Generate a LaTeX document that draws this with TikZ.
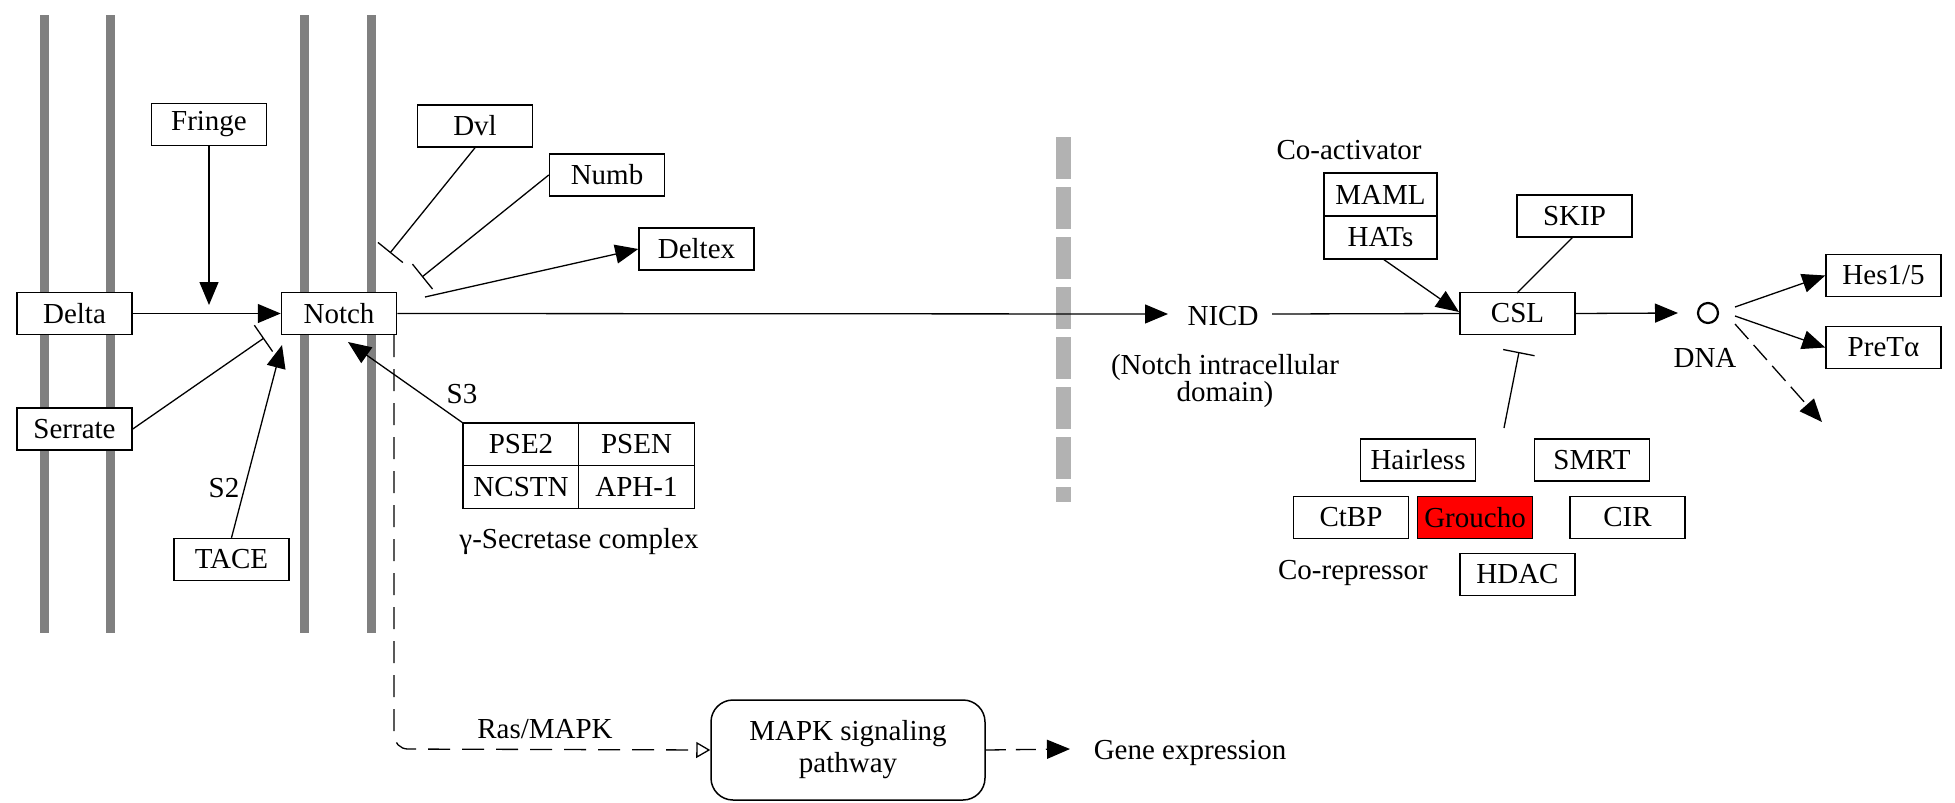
\documentclass[tikz,border=0pt]{standalone}
\usepackage{fontspec}
\setmainfont{Liberation Serif}
\usetikzlibrary{arrows.meta}
\definecolor{membr}{RGB}{128,128,128}
\definecolor{nucl}{RGB}{178,178,178}
\definecolor{kred}{RGB}{255,0,0}
\begin{document}
\begin{tikzpicture}[x=1pt,y=-1pt,
  every node/.style={font=\fontsize{29}{30}\selectfont},
  box/.style={draw, fill=white, line width=1.5pt, minimum width=115pt, minimum height=42pt, inner sep=0pt},
  cell/.style={draw, fill=white, line width=1.5pt, minimum width=116pt, minimum height=43pt, inner sep=0pt},
  lbl/.style={inner sep=0pt, align=center},
  conn/.style={line width=1.3pt},
  act/.style={conn, -{Triangle[length=23pt,width=19pt]}},
  inh/.style={conn, -{Bar[width=32pt,line width=1.3pt]}},
  indirect/.style={line width=1.3pt, dash pattern=on 22pt off 12pt},
  membrane/.style={draw=membr, line width=9pt},
]
\useasboundingbox (0,0) rectangle (1955,803);
% membranes
\foreach \xx in {44,110.5,304.5,371.5} \draw[membrane] (\xx,15) -- (\xx,633);
% nuclear membrane
\draw[draw=nucl, line width=15pt, dash pattern=on 42pt off 8pt] (1063.5,137) -- (1063.5,502);

% nodes
\node[box] (fringe) at (209,124.5) {Fringe};
\node[box] (delta) at (74.5,313.5) {Delta};
\node[box] (notch) at (339,313.5) {Notch};
\node[box] (serrate) at (74.5,429) {Serrate};
\node[box] (tace) at (231.5,559.5) {TACE};
\node[box] (dvl) at (475,126) {Dvl};
\node[box] (numb) at (607,175) {Numb};
\node[box] (deltex) at (696.5,249) {Deltex};
\node[cell] (pse2) at (521,444.5) {PSE2};
\node[cell] (psen) at (636.5,444.5) {PSEN};
\node[cell] (ncstn) at (521,487) {NCSTN};
\node[cell] (aph) at (636.5,487) {APH-1};
\node[box, minimum width=113pt, minimum height=43pt] (maml) at (1380.5,194.5) {MAML};
\node[box, minimum width=113pt, minimum height=43pt] (hats) at (1380.5,237.5) {HATs};
\node[box] (skip) at (1574.5,216) {SKIP};
\node[box] (csl) at (1517.5,313.5) {CSL};
\node[box] (hairless) at (1418,460) {Hairless};
\node[box] (smrt) at (1592,460) {SMRT};
\node[box] (ctbp) at (1351,517.5) {CtBP};
\node[box, fill=kred] (groucho) at (1475,517.5) {Groucho};
\node[box] (cir) at (1627.5,517.5) {CIR};
\node[box] (hdac) at (1517.5,574.5) {HDAC};
\node[box] (hes) at (1883.5,275.5) {Hes1/5};
\node[box] (pret) at (1883.5,347.5) {PreTα};
\node[draw, line width=1.5pt, rounded corners=22pt, minimum width=274pt, minimum height=100pt, lbl, font=\fontsize{29}{32}\selectfont] (mapk) at (848,750) {MAPK signaling\\pathway};

% labels
\node[lbl] (nicd) at (1223,316) {NICD};
\node[lbl, font=\fontsize{29}{27}\selectfont] (nicdlong) at (1225,381) {(Notch intracellular\\domain)};
\node[lbl] (coact) at (1349,150) {Co-activator};
\node[lbl] (corep) at (1353,573) {Co-repressor};
\node[lbl] (gsec) at (579,542) {γ-Secretase complex};
\node[lbl] (s2) at (224,488) {S2};
\node[lbl] (s3) at (462,394) {S3};
\node[lbl] (ras) at (545,729) {Ras/MAPK};
\node[lbl] (gene) at (1190,753) {Gene expression};
\node[lbl] (dnalbl) at (1705,358) {DNA};
\node[circle, draw, line width=2.2pt, minimum size=20pt, inner sep=0pt] (dna) at (1708,313) {};

% coordinates
\coordinate (fringeEnd) at (209,305);
\coordinate (serEnd) at (264,338);
\coordinate (taceEnd) at (282,345);
\coordinate (s3Start) at (463,423);
\coordinate (s3End) at (348,342);
\coordinate (dvlEnd) at (390,253);
\coordinate (numbEnd) at (422,277);
\coordinate (deltexStart) at (425,297);
\coordinate (nicdArr) at (1168,314);
\coordinate (hatsStart) at (1383,259);
\coordinate (hatsEnd) at (1459,312);
\coordinate (skipStart) at (1573,237);
\coordinate (skipEnd) at (1517,293);
\coordinate (repStart) at (1504,428);
\coordinate (repEnd) at (1519,352);
\coordinate (dnaArr) at (1678,313);
\coordinate (d1) at (1735,307);
\coordinate (d2) at (1735,316);
\coordinate (d3) at (1735,324);
\coordinate (d3End) at (1822,422);
\coordinate (rasStart) at (394,335);
\coordinate (rasCorner) at (394,749);
\coordinate (geneArr) at (1070,749);

% connectors
\draw[act] (fringe.south) -- (fringeEnd);
\draw[act] (delta.east) -- (notch.west);
\draw[inh] (serrate.east) -- (serEnd);
\draw[act] (tace.north) -- (taceEnd);
\draw[act] (s3Start) -- (s3End);
\draw[inh] (dvl.south) -- (dvlEnd);
\draw[inh] (numb.west) -- (numbEnd);
\draw[act] (deltexStart) -- (deltex.west);
\draw[act] (notch.east) -- (nicdArr);
\draw[conn] (1272,314) -- (csl.west);
\draw[act] (hatsStart) -- (hatsEnd);
\draw[conn] (skipStart) -- (skipEnd);
\draw[inh] (repStart) -- (repEnd);
\draw[act] (csl.east) -- (dnaArr);
\draw[act] (d1) -- (hes.west);
\draw[act] (d2) -- (pret.west);
\draw[act, dash pattern=on 20pt off 8pt] (d3) -- (d3End);
\draw[indirect, rounded corners=14pt, -{Triangle[open,length=14pt,width=16pt,line width=1.3pt]}] (rasStart) -- (rasCorner) -- (mapk.west);
\draw[indirect, dash pattern=on 20pt off 10pt, -{Triangle[length=23pt,width=19pt]}] (mapk.east) -- (geneArr);
\end{tikzpicture}
\end{document}
